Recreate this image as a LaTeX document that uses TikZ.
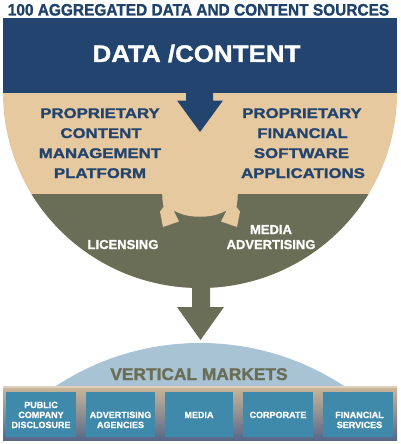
\documentclass[tikz,border=0pt]{standalone}
\usepackage{fontspec}
\setmainfont{Liberation Sans}[BoldFeatures={FakeBold=1.3}]
\usepackage{graphicx}
\definecolor{dblue}{HTML}{22446E}
\definecolor{ttlblue}{HTML}{1E426A}
\definecolor{tanc}{HTML}{E7C9A0}
\definecolor{olivec}{HTML}{6B6E56}
\definecolor{domec}{HTML}{A8C3D3}
\definecolor{boxc}{HTML}{3F89AB}
\definecolor{bartop}{HTML}{CDB899}
\definecolor{barbot}{HTML}{56678A}
\begin{document}
\begin{tikzpicture}[x=1pt,y=-1pt,
  txt/.style={anchor=base, inner sep=0pt, outer sep=0pt},
  ttl/.style={txt, text=ttlblue, font=\fontsize{16.5}{18}\selectfont\bfseries},
  big/.style={txt, text=white, font=\fontsize{24}{28}\selectfont\bfseries},
  blk/.style={txt, text=dblue, font=\fontsize{14}{16}\selectfont\bfseries},
  mid/.style={txt, text=white, font=\fontsize{13}{15}\selectfont\bfseries},
  vm/.style={txt, text=olivec, font=\fontsize{17}{19}\selectfont\bfseries},
  sml/.style={txt, text=white, font=\fontsize{9}{10}\selectfont\bfseries},
  mbox/.style={fill=boxc, draw=none, inner sep=0pt, minimum height=45pt, minimum width=#1},
]
\useasboundingbox (0,0) rectangle (400,444);
\fill[white] (0,0) rectangle (400,444);

% title
\node[ttl] (title) at (198.5,15.5) {\scalebox{0.935}[1]{100 AGGREGATED DATA AND CONTENT SOURCES}};

% data/content band
\fill[dblue] (3,18.5) rectangle (397,93.5);
\node[big] (data) at (196.5,62) {\scalebox{1.08}[1]{DATA /CONTENT}};

% half disc: tan and olive
\begin{scope}
  \clip (0,93) rectangle (400,300);
  \fill[tanc] (200,93) ellipse[x radius=197, y radius=195];
\end{scope}
\begin{scope}
  \clip (0,194.5) rectangle (400,300);
  \fill[olivec] (200,93) ellipse[x radius=197, y radius=195];
\end{scope}

% blue down arrow
\fill[dblue] (186,92) -- (186,100.5) -- (177,100.5) -- (200,132) -- (223,100.5) -- (213,100.5) -- (213,92) -- cycle;

% tan hub with two arrows
\fill[tanc] (162,190) -- (162.5,200) -- (163.5,207) -- (160,211.5) -- (163,227) -- (179,221.5) -- (173.5,210.5) -- (179,213)
  .. controls (190,218) and (210,218) .. (221,213) -- (226.5,210.5) -- (221,221.5) -- (237,227) -- (240,211.5)
  -- (236.5,207) -- (237.5,200) -- (238,190) -- cycle;

% proprietary blocks
\node[blk] (l1) at (100,118) {\scalebox{1.2}[1]{PROPRIETARY}};
\node[blk] (l2) at (101,138) {\scalebox{1.2}[1]{CONTENT}};
\node[blk] (l3) at (100,158) {\scalebox{1.2}[1]{MANAGEMENT}};
\node[blk] (l4) at (100,178) {\scalebox{1.2}[1]{PLATFORM}};
\node[blk] (r1) at (302,118) {\scalebox{1.2}[1]{PROPRIETARY}};
\node[blk] (r2) at (302.5,138) {\scalebox{1.2}[1]{FINANCIAL}};
\node[blk] (r3) at (301.5,158) {\scalebox{1.2}[1]{SOFTWARE}};
\node[blk] (r4) at (303,178) {\scalebox{1.2}[1]{APPLICATIONS}};

% licensing / media advertising
\node[mid] (lic) at (123,249) {LICENSING};
\node[mid] (med) at (271,234) {MEDIA};
\node[mid] (adv) at (271,249) {ADVERTISING};

% olive down arrow
\fill[olivec] (192,285) -- (192,307) -- (177,307) -- (200.5,340) -- (224,307) -- (210,307) -- (210,285) -- cycle;

% dome
\begin{scope}
  \clip (0,300) rectangle (400,388);
  \fill[domec] (200,605.6) circle[radius=262.6];
\end{scope}
\node[vm] (vmk) at (199,380) {\scalebox{1.02}[1]{VERTICAL MARKETS}};

% bar
\shade[top color=bartop, bottom color=barbot] (3,386) rectangle (397,440);
\fill[white, opacity=0.35] (3,386) rectangle (397,387.5);

% boxes
\node[mbox=70pt] (b1) at (41,414.5) {};
\node[mbox=69pt] (b2) at (120.5,414.5) {};
\node[mbox=68pt] (b3) at (199,414.5) {};
\node[mbox=70pt] (b4) at (278,414.5) {};
\node[mbox=70pt] (b5) at (358,414.5) {};

\node[sml] (t11) at (b1.center |- 0,408) {PUBLIC};
\node[sml] (t12) at (b1.center |- 0,418) {COMPANY};
\node[sml] (t13) at (b1.center |- 0,428) {DISCLOSURE};
\node[sml] (t21) at (b2.center |- 0,418) {ADVERTISING};
\node[sml] (t22) at (b2.center |- 0,428) {AGENCIES};
\node[sml] (t31) at (b3.center |- 0,418) {MEDIA};
\node[sml] (t41) at (b4.center |- 0,418) {CORPORATE};
\node[sml] (t51) at (359.5,418) {FINANCIAL};
\node[sml] (t52) at (359.5,428) {SERVICES};
\end{tikzpicture}
\end{document}
